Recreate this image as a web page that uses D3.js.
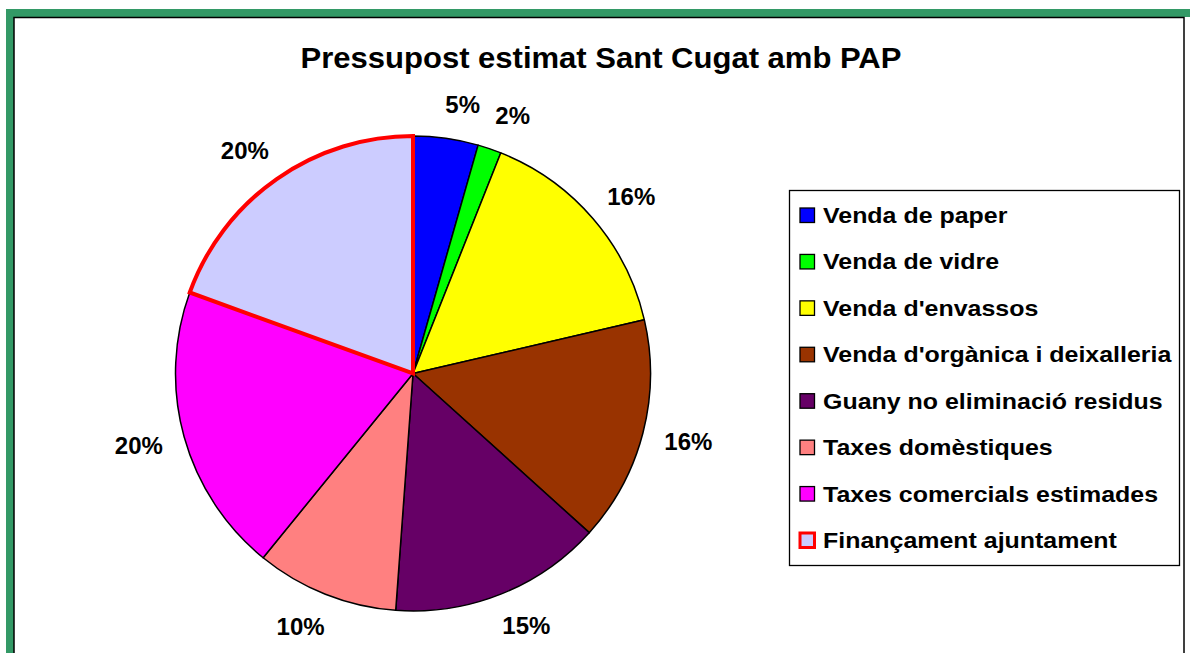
<!DOCTYPE html>
<html><head><meta charset="utf-8">
<script src="https://cdn.jsdelivr.net/npm/d3@7"></script>
<style>body{margin:0;background:#fff}svg{display:block}text{font-family:Arial,"Liberation Sans",sans-serif;font-weight:bold}</style>
</head><body><svg id="c" width="1190" height="653"></svg>
<script>
const categories = ["Venda de paper","Venda de vidre","Venda d'envassos","Venda d'orgànica i deixalleria","Guany no eliminació residus","Taxes domèstiques","Taxes comercials estimades","Finançament ajuntament"];
const values = [4.42, 1.61, 15.34, 15.32, 14.47, 9.71, 19.67, 19.46];
const pctLabels = ["5%","2%","16%","16%","15%","10%","20%","20%"];
const colors = ["#0000FF","#00FF00","#FFFF00","#993300","#660066","#FF8080","#FF00FF","#CCCCFF"];
const title = "Pressupost estimat Sant Cugat amb PAP";

const svg = d3.select("#c");
// frame
svg.append("rect").attr("x",10).attr("y",13).attr("width",1184).attr("height",660)
  .attr("fill","none").attr("stroke","#339966").attr("stroke-width",8);
svg.append("rect").attr("x",14).attr("y",17.5).attr("width",1170).attr("height",660)
  .attr("fill","#fff").attr("stroke","#000").attr("stroke-width",1.5);

svg.append("text").attr("transform","translate(601,68) scale(1.07,1)").attr("text-anchor","middle")
  .attr("font-size",29).text(title);

const cx=413, cy=373.5, r=237.5;
const g = svg.append("g").attr("transform",`translate(${cx},${cy})`);
const pie = d3.pie().sort(null).value(d=>d)(values);
const arc = d3.arc().innerRadius(0).outerRadius(r);
g.selectAll("path.s").data(pie).join("path").attr("class","s")
  .attr("d",arc).attr("fill",(d,i)=>colors[i])
  .attr("stroke",(d,i)=>i===7?"none":"#000").attr("stroke-width",1.5).attr("stroke-linejoin","round");
// highlighted slice
g.append("path").attr("d",arc(pie[7])).attr("fill","none").attr("stroke","#FF0000").attr("stroke-width",4).attr("stroke-linejoin","miter");

const mid = d=>(d.startAngle+d.endAngle)/2;
const lR = 272, lPad = 12;
g.selectAll("text.l").data(pie).join("text").attr("class","l")
  .attr("x",d=>lR*Math.sin(mid(d)) + Math.sign(Math.sin(mid(d)))*lPad)
  .attr("y",d=>-lR*Math.cos(mid(d)))
  .attr("dy","0.35em").attr("text-anchor","middle").attr("font-size",24)
  .text((d,i)=>pctLabels[i]);

// legend
svg.append("rect").attr("x",789.5).attr("y",190.5).attr("width",390).attr("height",375)
  .attr("fill","#fff").attr("stroke","#000").attr("stroke-width",1.3);
const ly = d3.scalePoint().domain(categories).range([215,540]);
const lg = svg.selectAll("g.lg").data(categories).join("g").attr("class","lg")
  .attr("transform",d=>`translate(800,${ly(d)})`);
lg.append("rect").attr("x",0).attr("y",-7).attr("width",14.5).attr("height",14.5)
  .attr("fill",(d,i)=>colors[i]).attr("stroke",(d,i)=>i===7?"#FF0000":"#000").attr("stroke-width",(d,i)=>i===7?3:1.3);
lg.append("text").attr("transform","translate(23,0) scale(1.085,1)").attr("dy","0.35em").attr("font-size",23).text(d=>d);
</script></body></html>
